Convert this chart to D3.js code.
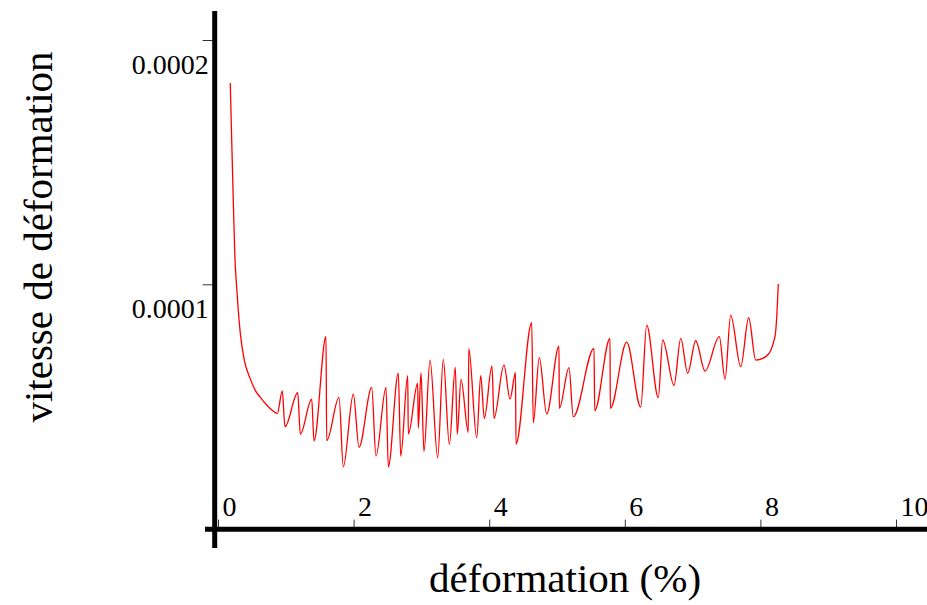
<!DOCTYPE html>
<html><head><meta charset="utf-8">
<script src="https://cdn.jsdelivr.net/npm/d3@7"></script>
<style>body{margin:0;background:#fff}svg{display:block}</style>
</head><body>
<svg id="c" width="927" height="605"></svg>
<script>
// strain (%) values
const strain = [0.181,0.206,0.229,0.251,0.273,0.299,0.332,0.388,0.472,0.556,0.619,0.718,0.796,0.875,
0.948,0.988,1.176,1.214,1.382,1.416,1.593,1.603,1.785,1.848,1.996,2.080,2.267,2.330,
2.478,2.512,2.659,2.695,2.798,2.807,2.945,2.954,2.994,3.038,3.127,3.240,3.323,3.412,
3.500,3.529,3.584,3.692,3.698,3.816,3.875,3.928,4.041,4.071,4.218,4.307,4.388,4.395,
4.627,4.650,4.739,4.848,5.029,5.034,5.177,5.240,5.546,5.556,5.782,5.786,6.028,6.235,
6.323,6.494,6.559,6.726,6.825,6.928,7.046,7.183,7.394,7.478,7.562,7.710,7.827,7.931,
8.093,8.215,8.249,8.264];
// strain rate values
const rate = [1.824e-4,1.550e-4,1.304e-4,1.099e-4,0.997e-4,0.895e-4,0.792e-4,0.690e-4,0.616e-4,0.563e-4,0.539e-4,0.506e-4,0.485e-4,0.471e-4,
0.564e-4,0.417e-4,0.556e-4,0.387e-4,0.530e-4,0.359e-4,0.786e-4,0.360e-4,0.537e-4,0.253e-4,0.550e-4,0.333e-4,0.578e-4,0.297e-4,
0.578e-4,0.253e-4,0.636e-4,0.297e-4,0.626e-4,0.387e-4,0.595e-4,0.411e-4,0.638e-4,0.315e-4,0.690e-4,0.290e-4,0.693e-4,0.345e-4,
0.660e-4,0.387e-4,0.611e-4,0.394e-4,0.738e-4,0.372e-4,0.626e-4,0.451e-4,0.666e-4,0.451e-4,0.670e-4,0.530e-4,0.638e-4,0.346e-4,
0.843e-4,0.433e-4,0.700e-4,0.469e-4,0.747e-4,0.492e-4,0.659e-4,0.458e-4,0.738e-4,0.483e-4,0.779e-4,0.492e-4,0.763e-4,0.497e-4,
0.833e-4,0.536e-4,0.772e-4,0.586e-4,0.779e-4,0.636e-4,0.769e-4,0.645e-4,0.786e-4,0.611e-4,0.874e-4,0.663e-4,0.863e-4,0.690e-4,
0.707e-4,0.786e-4,0.908e-4,1.001e-4];
const xTicks = [0,2,4,6,8,10];
const xTickLabels = ["0","2","4","6","8","10"];
const yTicks = [0.0001,0.0002];
const yTickLabels = ["0.0001","0.0002"];
const xTitle = "déformation (%)";
const yTitle = "vitesse de déformation";

const svg = d3.select("#c");
const font = "'Liberation Serif','Times New Roman',serif";
const x = d3.scaleLinear().domain([0,10]).range([218,896]);
const y = d3.scaleLinear().domain([0,0.0002]).range([528.6,40]);
const axisX = x(0) - 3.3;

// x ticks & labels (above the axis line)
const gx = svg.append("g").attr("transform",`translate(0,${y(0)})`)
  .call(d3.axisTop(x).tickValues(xTicks).tickSize(9).tickFormat((d,i)=>xTickLabels[i]));
gx.select(".domain").remove();
gx.selectAll(".tick line").attr("stroke","#333").attr("stroke-width",1);
gx.selectAll(".tick text").attr("font-family",font).attr("font-size",28).attr("fill","#000")
  .attr("text-anchor","start").attr("x",4).attr("y",-13).attr("dy",0);

// y ticks & labels
const gy = svg.append("g").attr("transform",`translate(${axisX},0)`)
  .call(d3.axisLeft(y).tickValues(yTicks).tickSize(12).tickFormat((d,i)=>yTickLabels[i]));
gy.select(".domain").remove();
gy.selectAll(".tick line").attr("stroke","#333").attr("stroke-width",1);
gy.selectAll(".tick text").attr("font-family",font).attr("font-size",28).attr("fill","#000")
  .attr("text-anchor","end").attr("x",-6).attr("y",33).attr("dy",0);

// thick axis lines
svg.append("line").attr("x1",205).attr("x2",927).attr("y1",y(0)+0.7).attr("y2",y(0)+0.7)
  .attr("stroke","#000").attr("stroke-width",5);
svg.append("line").attr("x1",axisX).attr("x2",axisX).attr("y1",11).attr("y2",548)
  .attr("stroke","#000").attr("stroke-width",5);

// curve
const pts = strain.map((s,i)=>[s,rate[i]]);
svg.append("path").datum(pts)
  .attr("d", d3.line().x(d=>x(d[0])).y(d=>y(d[1])).curve(d3.curveMonotoneX))
  .attr("fill","none").attr("stroke","#ff0000").attr("stroke-width",1.3);

// titles
svg.append("text").attr("x",565).attr("y",592).attr("text-anchor","middle")
  .attr("font-family",font).attr("font-size",41).text(xTitle);
svg.append("text").attr("transform","translate(52,237) rotate(-90)").attr("text-anchor","middle")
  .attr("font-family",font).attr("font-size",41).text(yTitle);
</script>
</body></html>
